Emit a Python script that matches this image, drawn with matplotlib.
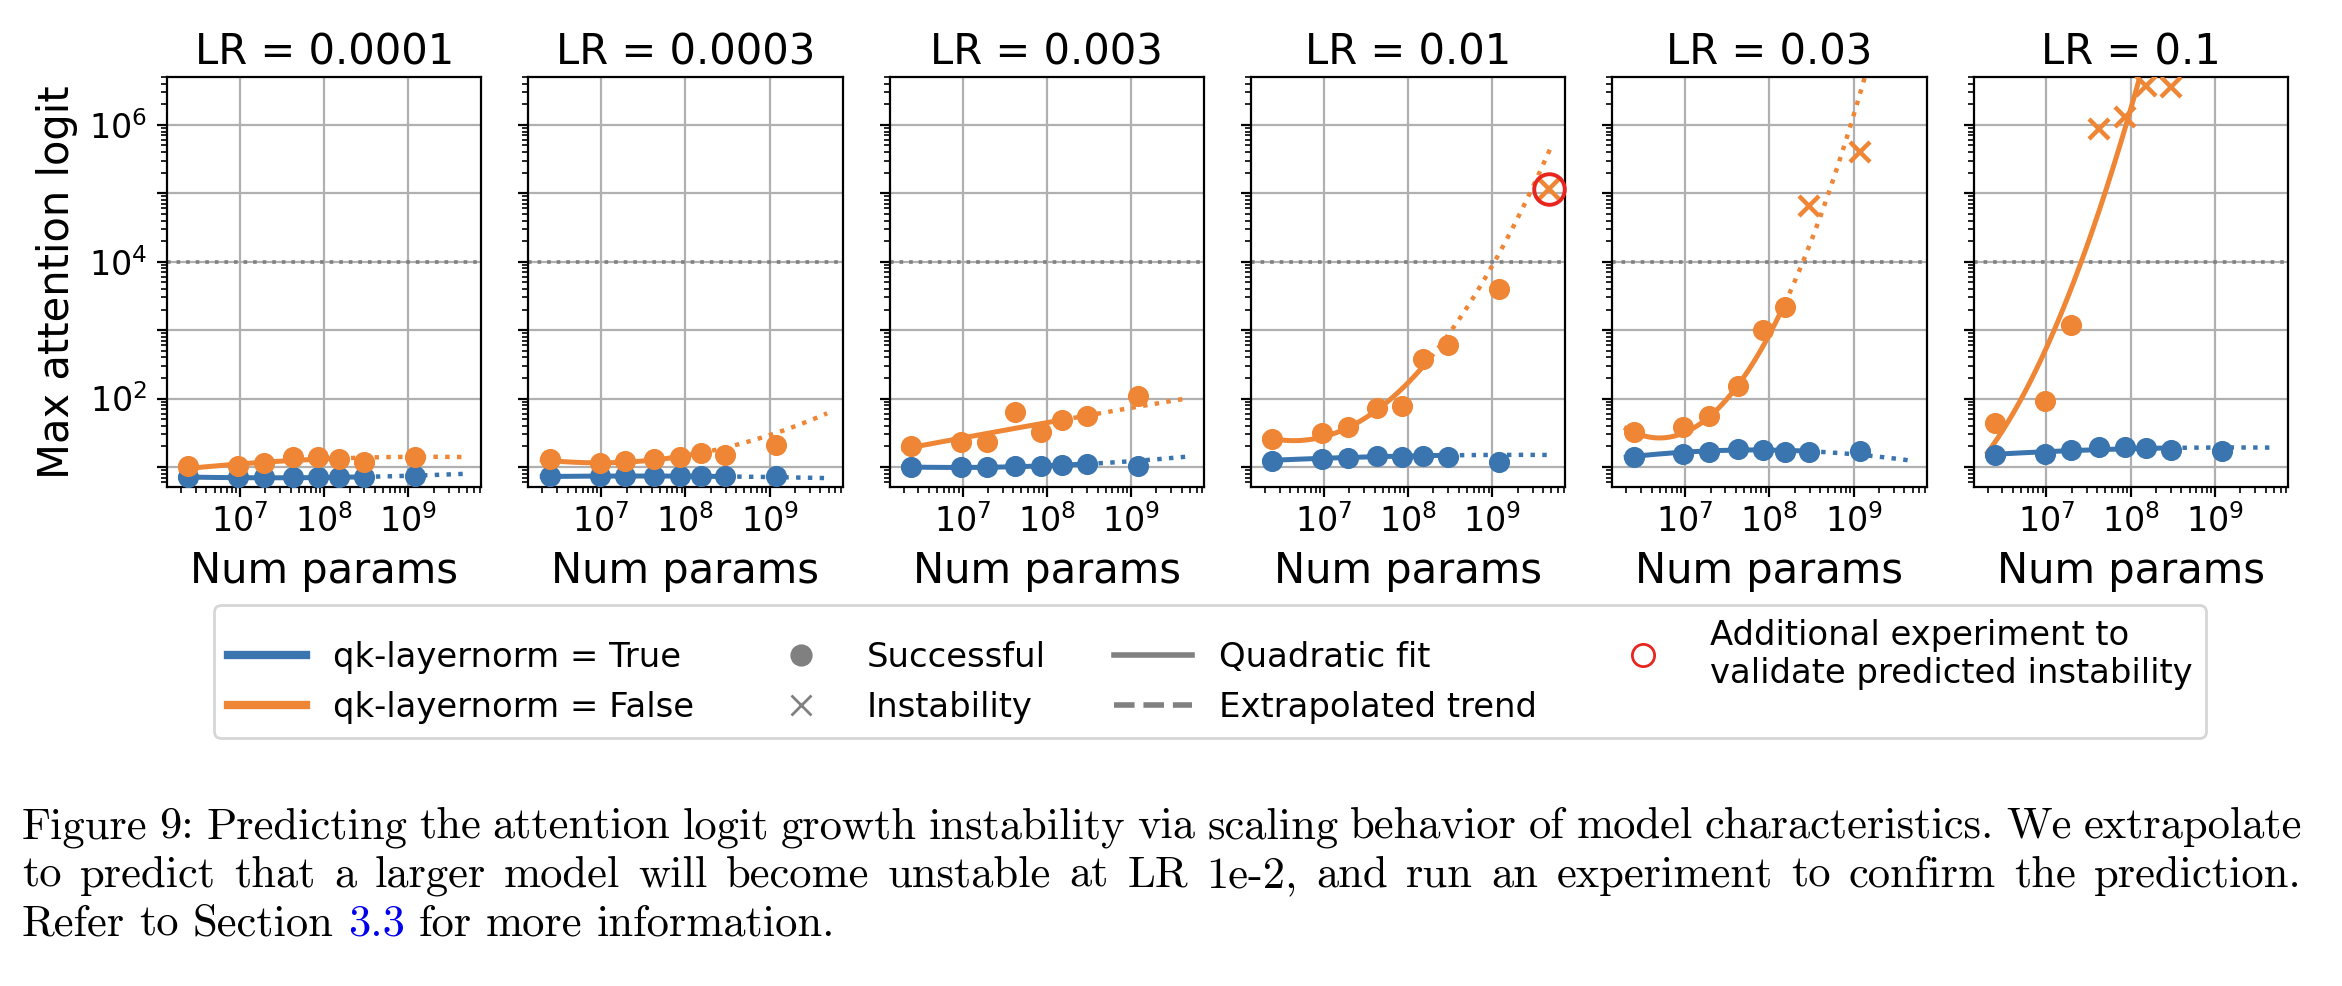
import matplotlib
matplotlib.use('Agg')
import matplotlib.pyplot as plt
import numpy as np
from matplotlib.ticker import LogLocator, FuncFormatter, NullFormatter
from matplotlib.lines import Line2D

# ---------------- data ----------------
lrs = ['0.0001', '0.0003', '0.003', '0.01', '0.03', '0.1']
n_params = [2.44e6, 9.55e6, 1.93e7, 4.25e7, 8.5e7, 1.51e8, 2.98e8, 1.2e9]

logit_qk_true = [
    [7.1, 7.1, 7.1, 7.1, 7.1, 7.1, 7.1, 7.4],
    [7.3, 7.3, 7.3, 7.3, 7.3, 7.3, 7.3, 7.4],
    [9.95, 9.95, 9.95, 10.4, 10.4, 10.8, 11.0, 10.2],
    [12.4, 13.0, 13.4, 14.7, 14.2, 14.7, 14.2, 12.0],
    [14.2, 15.4, 16.5, 18.4, 17.8, 16.8, 16.8, 17.2],
    [15.1, 15.6, 17.8, 19.9, 19.9, 18.8, 17.8, 17.2],
]
logit_qk_false = [
    [10.2, 10.4, 11.4, 13.8, 13.8, 13.0, 11.8, 14.2],
    [13.0, 11.4, 12.3, 13.0, 14.2, 15.9, 15.1, 21.1],
    [20.4, 22.8, 23.0, 64.6, 32.3, 47.8, 55.9, 110.7],
    [25.8, 31.2, 37.8, 72.3, 79.1, 384, 601, 4040],
    [31.9, 37.8, 56.5, 153, 1005, 2200, 6.5e4, 4.0e5],
    [43.7, 92.5, 1190, 8.8e5, 1.31e6, 3.66e6, 3.59e6, None],
]
# additional validation experiment (LR = 0.01)
extra_panel = 3
extra_n = 4.66e9
extra_logit = 1.14e5
instability_threshold = 1e4

# quadratic-fit curves (log10 N, log10 logit)
fit_true_logx = [
    [6.387, 8.47, 9.676],
    [6.387, 8.47, 9.676],
    [6.387, 7.6, 8.47, 9.676],
    [6.383, 7.62, 8.47, 9.696],
    [6.387, 7.6, 8.47, 9.67],
    [6.39, 7.6, 8.47, 9.67],
]
fit_true_logy = [
    [0.852, 0.855, 0.90],
    [0.861, 0.861, 0.837],
    [0.998, 1.005, 1.041, 1.153],
    [1.095, 1.16, 1.16, 1.178],
    [1.153, 1.25, 1.226, 1.095],
    [1.178, 1.28, 1.25, 1.29],
]
fit_false_logx = [
    [6.387, 7.0, 7.63, 8.18, 9.676],
    [6.387, 7.0, 7.63, 8.18, 9.0, 9.696],
    [6.387, 7.3, 8.18, 9.676],
    [6.383, 7.0, 7.621, 8.194, 9.0, 9.696],
    [6.387, 7.0, 7.62, 8.18, 8.66, 9.126],
    [6.304, 7.0, 7.4, 7.72, 8.0],
]
fit_false_logy = [
    [0.983, 1.032, 1.105, 1.124, 1.144],
    [1.095, 1.056, 1.105, 1.212, 1.455, 1.796],
    [1.285, 1.49, 1.689, 2.005],
    [1.411, 1.445, 1.835, 2.491, 3.927, 5.689],
    [1.494, 1.543, 2.175, 3.319, 4.925, 6.652],
    [1.21, 2.759, 3.976, 5.046, 6.263],
]
fit_start = 2.0e6
fit_end_true = 2.98e8
fit_end_false = 1.51e8
extrap_end = 4.8e9

legend_labels = ['qk-layernorm = True', 'qk-layernorm = False', 'Successful',
                 'Instability', 'Quadratic fit', 'Extrapolated trend',
                 'Additional experiment to\nvalidate predicted instability']

caption_lines = [
    "Figure 9: Predicting the attention logit growth instability via scaling behavior of model characteristics. We extrapolate",
    "to predict that a larger model will become unstable at LR 1e-2, and run an experiment to confirm the prediction.",
    "Refer to Section 3.3 for more information.",
]

# ---------------- style ----------------
BLUE = '#3b75af'
ORANGE = '#ef8636'
RED = '#e8261f'
GRAY = '#808080'

plt.rcParams['font.family'] = ['DejaVu Sans']
plt.rcParams['mathtext.fontset'] = 'dejavusans'

W_IN, H_IN, DPI = 11.71, 4.93, 200
fig, axes = plt.subplots(1, 6, figsize=(W_IN, H_IN), dpi=DPI, sharey=True)
fig.subplots_adjust(left=0.0713, right=0.9769, top=0.9219, bottom=0.5056, wspace=0.1496)


def dec_fmt_even(v, p):
    e = int(round(np.log10(v)))
    return r'$10^{%d}$' % e if e % 2 == 0 else ''


def dec_fmt(v, p):
    e = int(round(np.log10(v)))
    return r'$10^{%d}$' % e


for i, ax in enumerate(axes):
    ax.set_xscale('log')
    ax.set_yscale('log')
    ax.set_axisbelow(True)
    ax.grid(True, which='major', color='#b0b0b0', lw=0.8)
    ax.axhline(instability_threshold, color=GRAY, ls=':', lw=1.3, zorder=1.5)

    series = [
        (logit_qk_true[i], fit_true_logx[i], fit_true_logy[i], BLUE, fit_end_true),
        (logit_qk_false[i], fit_false_logx[i], fit_false_logy[i], ORANGE, fit_end_false),
    ]
    for vals, fx, fy, col, fend in series:
        coef = np.polyfit(fx, fy, 2)
        u_fit = np.linspace(np.log10(fit_start), np.log10(fend), 200)
        ax.plot(10 ** u_fit, 10 ** np.polyval(coef, u_fit), color=col, lw=1.8, zorder=2)
        u_ext = np.linspace(np.log10(fend), np.log10(extrap_end), 200)
        ax.plot(10 ** u_ext, 10 ** np.polyval(coef, u_ext), color=col, lw=1.6, ls=':', zorder=2)
        xs_ok = [n for n, v in zip(n_params, vals) if v is not None and v < instability_threshold]
        ys_ok = [v for v in vals if v is not None and v < instability_threshold]
        xs_bad = [n for n, v in zip(n_params, vals) if v is not None and v >= instability_threshold]
        ys_bad = [v for v in vals if v is not None and v >= instability_threshold]
        ax.plot(xs_ok, ys_ok, ls='none', marker='o', ms=6.6, color=col, zorder=3)
        ax.plot(xs_bad, ys_bad, ls='none', marker='x', ms=7.5, mew=1.6, color=col, zorder=3)

    if i == extra_panel:
        ax.plot([extra_n], [extra_logit], ls='none', marker='x', ms=7.5, mew=1.6, color=ORANGE, zorder=3)
        ax.plot([extra_n], [extra_logit], ls='none', marker='o', ms=11, mew=1.4,
                mfc='none', mec=RED, zorder=4, clip_on=False)

    ax.set_xlim(10 ** 6.135, 10 ** 9.865)
    ax.set_ylim(10 ** 0.70, 10 ** 6.70)

    ax.xaxis.set_major_locator(LogLocator(base=10, numticks=30))
    ax.xaxis.set_major_formatter(FuncFormatter(dec_fmt))
    ax.xaxis.set_minor_locator(LogLocator(base=10, subs=np.arange(2, 10), numticks=100))
    ax.xaxis.set_minor_formatter(NullFormatter())
    ax.yaxis.set_major_locator(LogLocator(base=10, numticks=30))
    ax.yaxis.set_major_formatter(FuncFormatter(dec_fmt_even))
    ax.yaxis.set_minor_locator(LogLocator(base=10, subs=np.arange(2, 10), numticks=100))
    ax.yaxis.set_minor_formatter(NullFormatter())
    ax.tick_params(axis='both', which='major', labelsize=12)
    ax.tick_params(axis='x', which='major', pad=2.5)
    if i > 0:
        ax.tick_params(labelleft=False)

    ax.set_title('LR = ' + lrs[i], fontsize=15, pad=4.5)
    ax.set_xlabel('Num params', fontsize=15, labelpad=4)

axes[0].set_ylabel('Max attention logit', fontsize=15)

# ---------------- legend ----------------
handles = [
    Line2D([], [], color=BLUE, lw=3),
    Line2D([], [], color=ORANGE, lw=3),
    Line2D([], [], color=GRAY, marker='o', ls='none', ms=7),
    Line2D([], [], color=GRAY, marker='x', ls='none', ms=7, mew=1.0),
    Line2D([], [], color=GRAY, lw=2),
    Line2D([], [], color=GRAY, lw=2, ls='--'),
    Line2D([], [], marker='o', ls='none', mfc='none', mec=RED, ms=8, mew=1.0),
]
fig.legend(handles, legend_labels, ncol=4, loc='center', bbox_to_anchor=(0.5167, 0.3190),
           fontsize=12.2, handlelength=2.3, columnspacing=2.0, frameon=True, fancybox=True)

# ---------------- caption (justified) ----------------
renderer = fig.canvas.get_renderer()
fig_w_px = fig.bbox.width
fig_h_px = fig.bbox.height
x_left_px, x_right_px = 22, 2302
avail = x_right_px - x_left_px


def word_width(txt, fs):
    t = fig.text(0, 0, txt, fontfamily='cmr10', fontsize=fs)
    w = t.get_window_extent(renderer).width
    t.remove()
    return w


# choose the caption size so that the first line fits the text width naturally
base_fs = 10.0
words0 = caption_lines[0].split(' ')
space0 = word_width('aa a', base_fs) - word_width('aaa', base_fs)
natural0 = sum(word_width(w, base_fs) for w in words0) + space0 * (len(words0) - 1)
cap_fs = base_fs * avail * 1.02 / natural0
space_w = space0 * cap_fs / base_fs * 0.95
line_skip_px = 1.10 * cap_fs * DPI / 72.0
first_base_px = 838
justify = [True, True, False]

for k, (line, just) in enumerate(zip(caption_lines, justify)):
    y = 1 - (first_base_px + k * line_skip_px) / fig_h_px
    words = line.split(' ')
    texts, widths = [], []
    for w in words:
        col = '#0000ee' if w == '3.3' else 'black'
        t = fig.text(0, y, w, fontfamily='cmr10', fontsize=cap_fs, color=col, va='baseline')
        texts.append(t)
        widths.append(t.get_window_extent(renderer).width)
    if just:
        gap = (avail - sum(widths)) / (len(words) - 1)
    else:
        gap = space_w
    x = x_left_px
    for t, w in zip(texts, widths):
        t.set_x(x / fig_w_px)
        x += w + gap

fig.savefig('out.png', dpi=DPI)
